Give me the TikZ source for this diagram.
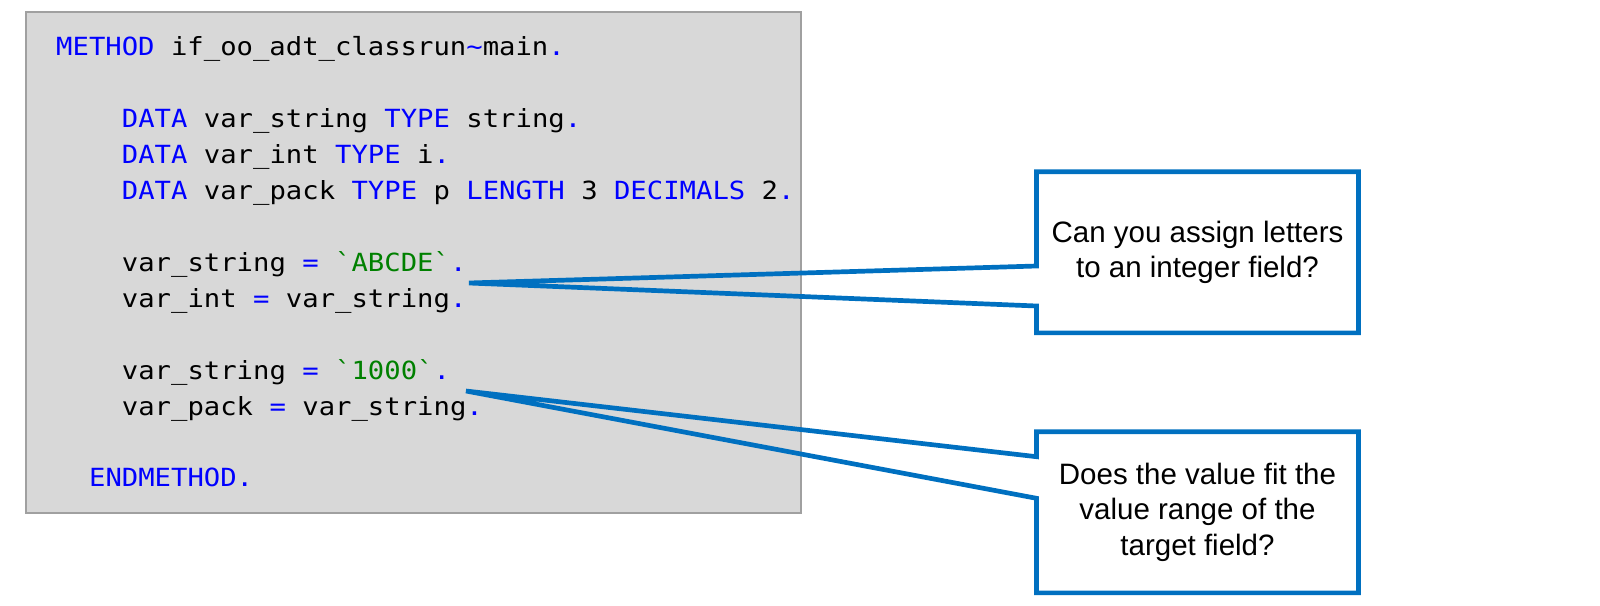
\documentclass[tikz,border=0pt]{standalone}
\usepackage{fontspec}
\newfontfamily\codefont[Ligatures=TeXOff,FakeStretch=1.09]{DejaVu Sans Mono}
\newfontfamily\callfont{Liberation Sans}
\definecolor{kw}{RGB}{0,0,255}
\definecolor{strg}{RGB}{0,128,0}
\definecolor{codebg}{RGB}{216,216,216}
\definecolor{codeframe}{RGB}{160,160,160}
\definecolor{callblue}{RGB}{0,112,192}
\newcommand\K[1]{\textcolor{kw}{#1}}
\newcommand\St[1]{\textcolor{strg}{#1}}
\newcommand\bq{\char96\relax}
\tikzset{
  codeline/.style={anchor=base west,inner sep=0pt,font=\codefont\fontsize{25}{36}\selectfont,text=black},
  callbox/.style={inner sep=0pt,minimum width=321.6pt,minimum height=160.7pt,align=center,
    font=\callfont\fontsize{29.5}{35.5}\selectfont},
  callout/.style={draw=callblue,line width=4.7pt,line join=miter},
}
\begin{document}
\begin{tikzpicture}[x=1pt,y=-1pt]
\useasboundingbox (0,0) rectangle (1600,605);
\node[draw=codeframe,fill=codebg,line width=2pt,anchor=north west,inner sep=0pt,
  minimum width=774.7pt,minimum height=500.5pt] (code) at (25,11) {};
% code lines
\node[codeline] (l0) at (56,55.5) {\K{METHOD} if\_oo\_adt\_classrun\K{\textasciitilde}main\K{.}};
\node[codeline] (l2) at (121.7,127.4) {\K{DATA} var\_string \K{TYPE} string\K{.}};
\node[codeline] (l3) at (121.7,163.35) {\K{DATA} var\_int \K{TYPE} i\K{.}};
\node[codeline] (l4) at (121.7,199.3) {\K{DATA} var\_pack \K{TYPE} p \K{LENGTH} 3 \K{DECIMALS} 2\K{.}};
\node[codeline] (l6) at (121.7,271.2) {var\_string \K{=} \St{\bq ABCDE\bq}\K{.}};
\node[codeline] (l7) at (121.7,307.15) {var\_int \K{=} var\_string\K{.}};
\node[codeline] (l9) at (121.7,379.05) {var\_string \K{=} \St{\bq 1000\bq}\K{.}};
\node[codeline] (l10) at (121.7,415) {var\_pack \K{=} var\_string\K{.}};
\node[codeline] (l12) at (88.9,486.9) {\K{ENDMETHOD.}};
% callout 1
\node[callbox] (box1) at (1197.5,252.3) {Can you assign letters\\to an integer field?};
\coordinate (tip1) at (469,283);
\coordinate (a1) at (0,266);
\coordinate (b1) at (0,306);
\draw[callout] (box1.west |- a1) -- (box1.north west) -- (box1.north east) -- (box1.south east)
  -- (box1.south west) -- (box1.west |- b1) -- (tip1) -- cycle;
% callout 2
\node[callbox] (box2) at (1197.5,512.3) {Does the value fit the\\value range of the\\target field?};
\coordinate (tip2) at (466,391);
\coordinate (a2) at (0,456.7);
\coordinate (b2) at (0,498.3);
\draw[callout] (box2.west |- a2) -- (box2.north west) -- (box2.north east) -- (box2.south east)
  -- (box2.south west) -- (box2.west |- b2) -- (tip2) -- cycle;
\end{tikzpicture}
\end{document}
